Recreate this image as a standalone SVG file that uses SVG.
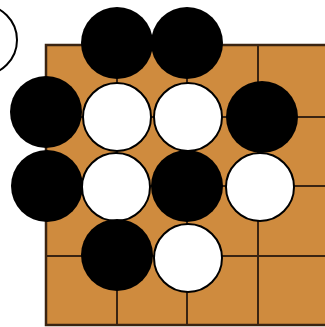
<svg xmlns="http://www.w3.org/2000/svg" width="325" height="327" viewBox="0 0 325 327">
<style>
.board{fill:#CF8B3E;stroke:#3a2412;stroke-width:2.5}
.line{stroke:#3a2412;stroke-width:2;fill:none}
.b{fill:#000}
.w{fill:#fff;stroke:#000;stroke-width:2}
</style>
<rect width="325" height="327" fill="#fff"/>
<g id="board">
<rect class="board" x="46" y="45" width="284" height="280"/>
</g>
<g id="grid" class="line">
<line x1="117" y1="45" x2="117" y2="325"/>
<line x1="187" y1="45" x2="187" y2="325"/>
<line x1="258" y1="45" x2="258" y2="325"/>
<line x1="46" y1="117" x2="325" y2="117"/>
<line x1="46" y1="186" x2="325" y2="186"/>
<line x1="46" y1="256" x2="325" y2="256"/>
</g>
<g id="stones">
<circle id="w0" class="w" cx="-18" cy="40" r="35"/>
<circle id="b1" class="b" cx="117" cy="43" r="36"/>
<circle id="b2" class="b" cx="187" cy="43" r="36"/>
<circle id="b3" class="b" cx="46" cy="112" r="36"/>
<circle id="w1" class="w" cx="117" cy="117" r="34"/>
<circle id="w2" class="w" cx="188" cy="117" r="34"/>
<circle id="b4" class="b" cx="262" cy="117" r="36"/>
<circle id="b5" class="b" cx="47" cy="186" r="36"/>
<circle id="w3" class="w" cx="116" cy="187" r="34"/>
<circle id="b6" class="b" cx="187" cy="186" r="36"/>
<circle id="w4" class="w" cx="260" cy="187" r="34"/>
<circle id="b7" class="b" cx="117" cy="255" r="36"/>
<circle id="w5" class="w" cx="188" cy="258" r="34"/>
</g>
</svg>
